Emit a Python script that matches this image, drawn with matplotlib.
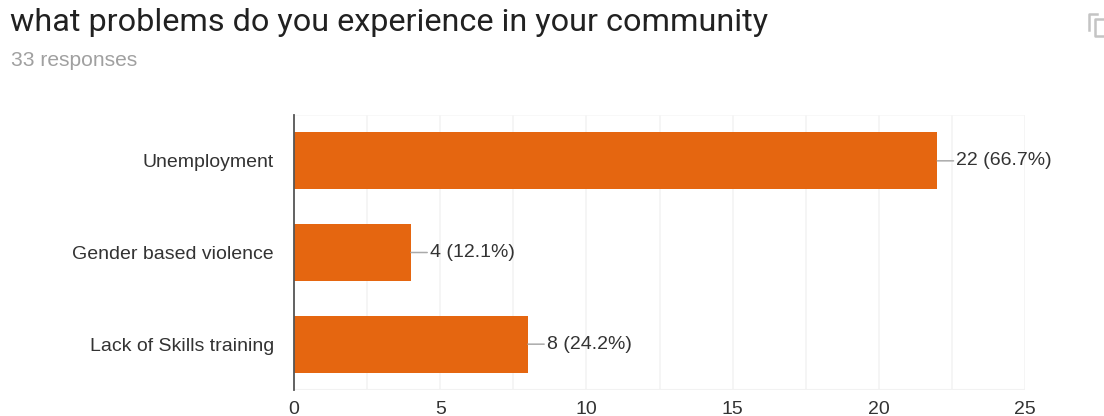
import matplotlib
matplotlib.use("Agg")
import matplotlib.pyplot as plt
from matplotlib.lines import Line2D

titulo = "what problems do you experience in your community"
subtitulo = "33 responses"
categorias = ["Unemployment", "Gender based violence", "Lack of Skills training"]
valores = [22, 4, 8]
rotulos = ["22 (66.7%)", "4 (12.1%)", "8 (24.2%)"]
ticks_x = [0, 5, 10, 15, 20, 25]
grade_x = [2.5, 5, 7.5, 10, 12.5, 15, 17.5, 20, 22.5, 25]

LARGURA, ALTURA = 1104, 416
LARANJA = "#e56610"
TEXTO = 14.0

plt.rcParams["font.family"] = ["Liberation Sans", "DejaVu Sans"]

fig = plt.figure(figsize=(LARGURA / 100, ALTURA / 100), dpi=100)
ax = fig.add_axes([294 / LARGURA, 1 - 390 / ALTURA, 731 / LARGURA, 275 / ALTURA])

pos = list(range(len(categorias)))
ax.barh(pos, valores, height=0.62, color=LARANJA, zorder=3)
ax.set_xlim(0, 25)
ax.set_ylim(len(categorias) - 0.5, -0.5)

# grade clara atras das barras
for g in grade_x:
    ax.axvline(g, color="#f3f3f3", lw=1.1, zorder=1)
ax.axhline(-0.5, color="#f6f6f6", lw=1.1, zorder=1)
ax.axhline(len(categorias) - 0.5, color="#f2f2f2", lw=1.5, zorder=1)

for s in ["top", "right", "bottom"]:
    ax.spines[s].set_visible(False)
ax.spines["left"].set_color("#555555")
ax.spines["left"].set_linewidth(1.3)
ax.spines["left"].set_zorder(4)

ax.set_yticks(pos, categorias)
ax.set_xticks(ticks_x)
ax.tick_params(axis="both", length=0, labelcolor="#333333", labelsize=TEXTO)
ax.tick_params(axis="y", pad=14.5)
ax.tick_params(axis="x", pad=8)

# rotulo de cada barra ligado por uma linha curta
for p, v, r in zip(pos, valores, rotulos):
    ax.annotate(r, xy=(v, p), xytext=(13.7, 0), textcoords="offset points",
                va="center", ha="left", fontsize=TEXTO, color="#333333", zorder=5,
                arrowprops=dict(arrowstyle="-", color="#aaaaaa", lw=1.1,
                                shrinkA=0, shrinkB=0, relpos=(0, 0.5)))

fig.text(10 / LARGURA, 1 - 31 / ALTURA, titulo, fontsize=23.3, color="#212121",
         family=["Roboto", "DejaVu Sans"], ha="left", va="baseline")
fig.text(11 / LARGURA, 1 - 66 / ALTURA, subtitulo, fontsize=15.1, color="#a0a0a0",
         ha="left", va="baseline")

# icone de copiar no canto superior direito
cinza = "#c4c4c4"
for xs, ys in [([1097, 1089, 1089], [14, 14, 30]),
               ([1104, 1095, 1095, 1104], [19, 19, 36, 36])]:
    fig.add_artist(Line2D([x / LARGURA for x in xs], [1 - y / ALTURA for y in ys],
                          color=cinza, lw=1.8))

fig.savefig("out.png", dpi=100)
